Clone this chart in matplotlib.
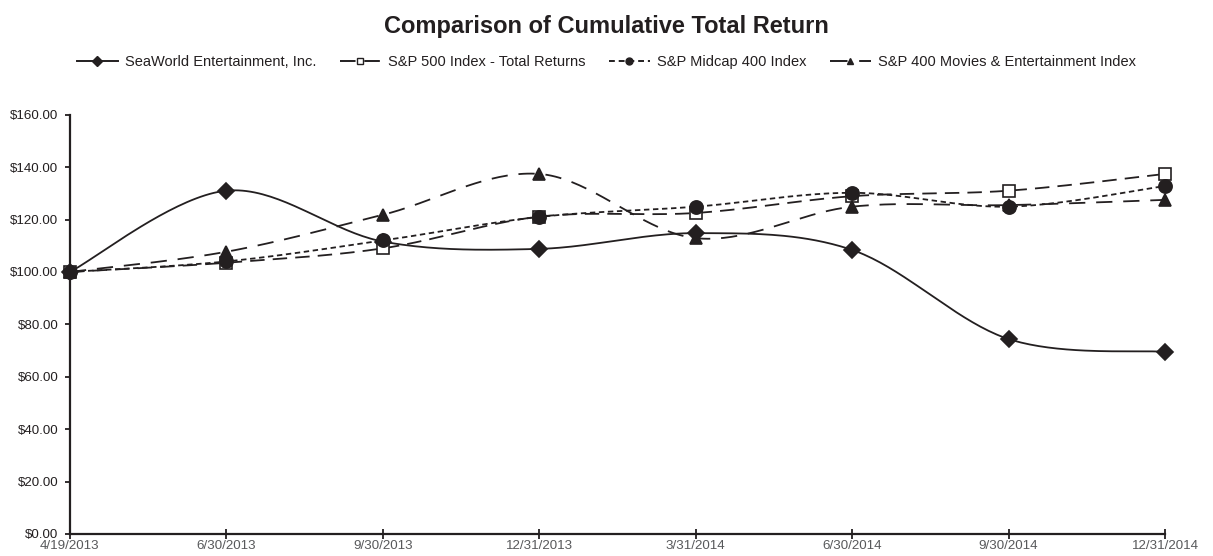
import numpy as np
import matplotlib.pyplot as plt
from matplotlib.lines import Line2D

plt.rcParams['font.family'] = ['Liberation Sans', 'DejaVu Sans']

dates = ["4/19/2013", "6/30/2013", "9/30/2013", "12/31/2013",
         "3/31/2014", "6/30/2014", "9/30/2014", "12/31/2014"]
seaworld = [100.00, 131.0, 111.6, 108.8, 114.8, 108.4, 74.4, 69.5]
sp500 = [100.00, 103.5, 109.0, 121.1, 122.5, 128.9, 131.0, 137.4]
midcap = [100.00, 104.0, 112.0, 121.0, 124.9, 130.2, 124.9, 132.8]
movies = [100.00, 107.7, 121.8, 137.4, 112.9, 124.9, 125.5, 127.5]

ink = '#231f20'


def smooth(y, n=40):
    # catmull-rom style curve through the points, like excel smoothed lines
    y = np.asarray(y, float)
    x = np.arange(len(y), dtype=float)
    px = np.concatenate([[x[0]], x, [x[-1]]])
    py = np.concatenate([[y[0]], y, [y[-1]]])
    xs, ys = [], []
    t = np.linspace(0, 1, n)
    b = lambda a, c, d, e: (1 - t) ** 3 * a + 3 * (1 - t) ** 2 * t * c + 3 * (1 - t) * t ** 2 * d + t ** 3 * e
    for i in range(1, len(px) - 2):
        p0, p1, p2, p3 = py[i - 1], py[i], py[i + 1], py[i + 2]
        q0, q1, q2, q3 = px[i - 1], px[i], px[i + 1], px[i + 2]
        c1y, c2y = p1 + (p2 - p0) / 6, p2 - (p3 - p1) / 6
        c1x, c2x = q1 + (q2 - q0) / 6, q2 - (q3 - q1) / 6
        xs.append(b(q1, c1x, c2x, q2))
        ys.append(b(p1, c1y, c2y, p2))
    return np.concatenate(xs), np.concatenate(ys)


fig = plt.figure(figsize=(12.13, 5.56), dpi=100)
ax = fig.add_axes([0.0577, 0.0396, 0.9027, 0.7541])

styles = [
    (seaworld, "SeaWorld Entertainment, Inc.", '-', 'D', ink, 8),
    (sp500, "S&P 500 Index - Total Returns", (0, (8, 4.5)), 's', 'white', 8.5),
    (midcap, "S&P Midcap 400 Index", (0, (3, 2)), 'o', ink, 9.5),
    (movies, "S&P 400 Movies & Entertainment Index", (0, (9, 6)), '^', ink, 9),
]

handles = []
x = np.arange(len(dates))
for vals, name, ls, mk, fc, ms in styles:
    sx, sy = smooth(vals)
    ax.plot(sx, sy, color=ink, lw=1.3, ls=ls, zorder=2, clip_on=False)
    ax.plot(x, vals, ls='none', marker=mk, ms=ms, mfc=fc, mec=ink, mew=1.2, zorder=3, clip_on=False)
    handles.append(Line2D([], [], color=ink, lw=1.4, ls=ls, marker=mk, ms=5,
                          mfc=fc, mec=ink, mew=1.0))

ax.set_xlim(0, len(dates) - 1)
ax.set_ylim(0, 160)
ax.set_xticks(x)
ax.set_xticklabels(dates, color='#58595b', fontsize=9.6)
ax.set_yticks(np.arange(0, 161, 20))
ax.set_yticklabels([f"${v:.2f}" for v in np.arange(0, 161, 20)], color=ink, fontsize=9.6)
ax.tick_params(axis='x', direction='inout', length=7, width=1.3, color=ink, pad=1)
ax.tick_params(axis='y', direction='out', length=3.5, width=1.3, color=ink, pad=5)
for s in ['top', 'right']:
    ax.spines[s].set_visible(False)
for s in ['left', 'bottom']:
    ax.spines[s].set_color(ink)
    ax.spines[s].set_linewidth(1.6)

fig.text(0.5, 0.9406, "Comparison of Cumulative Total Return", ha='center', va='baseline',
         fontsize=17, fontweight='bold', color=ink)
fig.legend(handles, [s[1] for s in styles], loc='center', bbox_to_anchor=(0.5, 0.889),
           ncol=4, frameon=False, fontsize=10.5, handlelength=2.8, columnspacing=1.6,
           handletextpad=0.5, labelcolor=ink, borderpad=0)

fig.savefig('out.png', dpi=100)
